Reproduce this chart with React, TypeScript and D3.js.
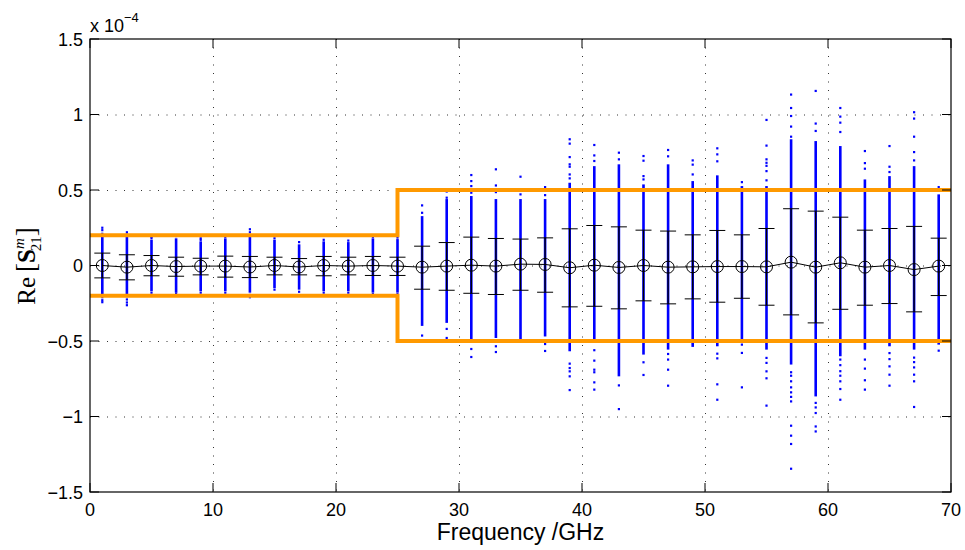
import React from "react";
import * as d3 from "d3";

// ---- data (values in units of 1e-4) ----
const freqs = [1, 3, 5, 7, 9, 11, 13, 15, 17, 19, 21, 23, 25, 27, 29, 31, 33, 35, 37, 39, 41, 43, 45, 47, 49, 51, 53, 55, 57, 59, 61, 63, 65, 67, 69];
const means = [0, -0.011, 0, -0.007, -0.004, -0.004, -0.01, 0, -0.01, 0, -0.004, 0, -0.004, -0.011, -0.004, 0.002, -0.004, 0.009, 0.007, -0.015, 0.002, -0.013, 0, -0.011, -0.009, -0.007, -0.007, -0.009, 0.022, -0.011, 0.018, -0.011, 0, -0.027, -0.004];
const capHi = [0.082, 0.071, 0.066, 0.055, 0.048, 0.062, 0.06, 0.055, 0.046, 0.06, 0.055, 0.06, 0.055, 0.128, 0.152, 0.188, 0.179, 0.175, 0.183, 0.243, 0.265, 0.256, 0.234, 0.228, 0.203, 0.232, 0.203, 0.245, 0.376, 0.36, 0.32, 0.234, 0.245, 0.259, 0.181];
const capLo = [-0.082, -0.095, -0.068, -0.071, -0.062, -0.077, -0.08, -0.062, -0.062, -0.068, -0.062, -0.066, -0.066, -0.157, -0.164, -0.184, -0.192, -0.164, -0.177, -0.274, -0.27, -0.287, -0.234, -0.254, -0.221, -0.243, -0.217, -0.263, -0.327, -0.38, -0.29, -0.263, -0.252, -0.307, -0.199];
const denseHi = [0.19, 0.19, 0.17, 0.18, 0.16, 0.18, 0.2, 0.17, 0.14, 0.16, 0.155, 0.18, 0.175, 0.327, 0.44, 0.46, 0.44, 0.44, 0.44, 0.548, 0.658, 0.67, 0.537, 0.67, 0.559, 0.597, 0.526, 0.526, 0.836, 0.824, 0.791, 0.57, 0.592, 0.658, 0.471];
const denseLo = [-0.19, -0.21, -0.17, -0.18, -0.17, -0.17, -0.18, -0.15, -0.16, -0.17, -0.17, -0.18, -0.18, -0.4, -0.38, -0.49, -0.48, -0.51, -0.47, -0.568, -0.513, -0.734, -0.59, -0.557, -0.539, -0.535, -0.49, -0.557, -0.656, -0.867, -0.601, -0.557, -0.535, -0.557, -0.524];
const outliers = [
  [0.25, 0.234, 0.21, -0.243, -0.23, -0.21],
  [0.22, 0.205, -0.263, -0.245, -0.225],
  [0.19, 0.18, -0.18],
  [0.195, -0.186],
  [0.18, 0.17, -0.18],
  [0.19, -0.18],
  [0.24, 0.22, -0.21, -0.195],
  [0.18, -0.16],
  [0.155, -0.174],
  [0.17, -0.18],
  [0.165, -0.18],
  [0.19, 0.2, -0.19],
  [0.185, -0.19],
  [0.398, 0.349, -0.464],
  [0.49, 0.449, -0.42, -0.48],
  [0.599, 0.559, 0.526, 0.482, -0.553, -0.606],
  [0.637, 0.53, 0.486, -0.535, -0.573],
  [0.588, 0.471],
  [0.519, 0.466, -0.52, -0.566],
  [0.836, 0.807, 0.718, 0.67, 0.654, 0.603, 0.577, -0.65, -0.679, -0.701, -0.734, -0.825],
  [0.798, 0.729, 0.692, -0.561, -0.63, -0.69, -0.707, -0.774, -0.822],
  [0.747, 0.703, -0.794, -0.951],
  [0.725, 0.694, 0.592, 0.57, -0.641, -0.725],
  [0.765, 0.723, -0.586, -0.623, -0.69, -0.796],
  [0.696, 0.668, 0.603],
  [0.776, 0.736, 0.69, -0.584, -0.615, -0.787, -0.889],
  [0.552, -0.524, -0.579, -0.807],
  [0.964, 0.794, 0.703, 0.68, 0.66, 0.625, 0.564, -0.612, -0.645, -0.701, -0.747, -0.928],
  [1.132, 1.043, 0.99, 0.92, 0.853, -0.707, -0.73, -0.767, -0.807, -0.84, -0.87, -0.9, -1.061, -1.127, -1.182, -1.346],
  [1.156, 0.94, 0.891, -0.91, -0.94, -0.977, -1.066, -1.099],
  [1.043, 0.986, 0.946, 0.884, -0.623, -0.66, -0.7, -0.73, -0.767, -0.818, -0.889],
  [0.758, 0.678, 0.641, -0.623, -0.683, -0.76, -0.822],
  [0.791, 0.654, 0.619, -0.58, -0.62, -0.668, -0.723, -0.796],
  [1.015, 0.973, 0.853, 0.751, 0.696, -0.61, -0.64, -0.675, -0.723, -0.767, -0.937],
  [0.519, -0.564],
];
const limitX = [0, 25, 70];
const limitVal = [0.2, 0.5, 0.5];
const xTicks = [0, 10, 20, 30, 40, 50, 60, 70];
const yTicks = [-1.5, -1, -0.5, 0, 0.5, 1, 1.5];
const xLabel = "Frequency /GHz";

export default function App() {
  const W = 965, H = 550;
  const L = 90, R = 951, T = 39, B = 492;
  const x = d3.scaleLinear().domain([0, 70]).range([L, R]);
  const y = d3.scaleLinear().domain([-1.5, 1.5]).range([B, T]);
  const font = "'Liberation Sans', Arial, Helvetica, sans-serif";
  const fmt = (v: number) => (v < 0 ? "\u2212" + String(-v) : String(v));
  const tick = 9;
  const gridColor = "#333";

  const meanLine = d3.line<number>().x((_, i) => x(freqs[i])).y((d) => y(d))(means) || "";
  const limPts = limitX.map((v, i) => [v, limitVal[i]] as [number, number]);
  const upper = d3.line<[number, number]>().x((d) => x(d[0])).y((d) => y(d[1])).curve(d3.curveStepAfter)(limPts) || "";
  const lower = d3.line<[number, number]>().x((d) => x(d[0])).y((d) => y(-d[1])).curve(d3.curveStepAfter)(limPts) || "";

  return (
    <svg width={W} height={H} style={{ position: "absolute", left: 0, top: 0, background: "#fff" }}>
      <rect x={0} y={0} width={W} height={H} fill="#fff" />
      {/* grid */}
      {xTicks.filter((t) => t > 0 && t < 70).map((t) => (
        <line key={"gx" + t} x1={x(t) + 0.5} x2={x(t) + 0.5} y1={T} y2={B} stroke={gridColor} strokeWidth={1} strokeDasharray="1,7.5" />
      ))}
      {yTicks.filter((t) => t > -1.5 && t < 1.5).map((t) => (
        <line key={"gy" + t} x1={L} x2={R} y1={y(t) + 0.5} y2={y(t) + 0.5} stroke={gridColor} strokeWidth={1} strokeDasharray="1,7.5" />
      ))}
      {/* blue samples */}
      {freqs.map((f, i) => (
        <g key={"s" + f} fill="#0000ff">
          <rect x={x(f) - 1.3} y={y(denseHi[i])} width={2.6} height={y(denseLo[i]) - y(denseHi[i])} />
          {outliers[i].map((v, j) => (
            <rect key={j} x={x(f) - 1.1} y={y(v) - 1.1} width={2.2} height={2.2} />
          ))}
        </g>
      ))}
      {/* error bars */}
      {freqs.map((f, i) => (
        <g key={"e" + f} stroke="#000" fill="none">
          <line x1={x(f)} x2={x(f)} y1={y(capHi[i])} y2={y(capLo[i])} strokeWidth={1.3} />
          <line x1={x(f) - 8} x2={x(f) + 8} y1={y(capHi[i])} y2={y(capHi[i])} strokeWidth={1} />
          <line x1={x(f) - 8} x2={x(f) + 8} y1={y(capLo[i])} y2={y(capLo[i])} strokeWidth={1} />
        </g>
      ))}
      <path d={meanLine} fill="none" stroke="#000" strokeWidth={1} />
      {freqs.map((f, i) => (
        <circle key={"c" + f} cx={x(f)} cy={y(means[i])} r={6} fill="none" stroke="#000" strokeWidth={1} />
      ))}
      {/* limits */}
      <path d={upper} fill="none" stroke="#ff9900" strokeWidth={4} />
      <path d={lower} fill="none" stroke="#ff9900" strokeWidth={4} />
      {/* axes box */}
      <rect x={L} y={T} width={R - L} height={B - T} fill="none" stroke="#000" strokeWidth={1.2} />
      {xTicks.map((t) => (
        <g key={"tx" + t} stroke="#000" strokeWidth={1}>
          <line x1={x(t)} x2={x(t)} y1={B} y2={B - tick} />
          <line x1={x(t)} x2={x(t)} y1={T} y2={T + tick} />
        </g>
      ))}
      {yTicks.map((t) => (
        <g key={"ty" + t} stroke="#000" strokeWidth={1}>
          <line x1={L} x2={L + tick} y1={y(t)} y2={y(t)} />
          <line x1={R} x2={R - tick} y1={y(t)} y2={y(t)} />
        </g>
      ))}
      {xTicks.map((t) => (
        <text key={"lx" + t} x={x(t)} y={516} textAnchor="middle" fontFamily={font} fontSize={18} fill="#000">{fmt(t)}</text>
      ))}
      {yTicks.map((t) => (
        <text key={"ly" + t} x={83} y={y(t) + 6.5} textAnchor="end" fontFamily={font} fontSize={18} fill="#000">{fmt(t)}</text>
      ))}
      <text x={90} y={31.5} fontFamily={font} fontSize={18} fill="#000">
        x 10<tspan fontSize={13} dy={-10}>{"\u22124"}</tspan>
      </text>
      <text x={(L + R) / 2} y={540} textAnchor="middle" fontFamily={font} fontSize={23} fill="#000">{xLabel}</text>
      <text transform="translate(35,266) rotate(-90)" textAnchor="middle" fontFamily="'Liberation Serif', 'Times New Roman', serif" fontSize={25} fill="#000">
        <tspan>Re</tspan>
        <tspan dx={5} fontSize={27}>[</tspan>
        <tspan fontWeight="bold">S</tspan>
        <tspan fontSize={15} fontStyle="italic" dy={-11}>m</tspan>
        <tspan fontSize={15} dx={-13} dy={17}>21</tspan>
        <tspan dy={-6} fontSize={27}>]</tspan>
      </text>
    </svg>
  );
}
